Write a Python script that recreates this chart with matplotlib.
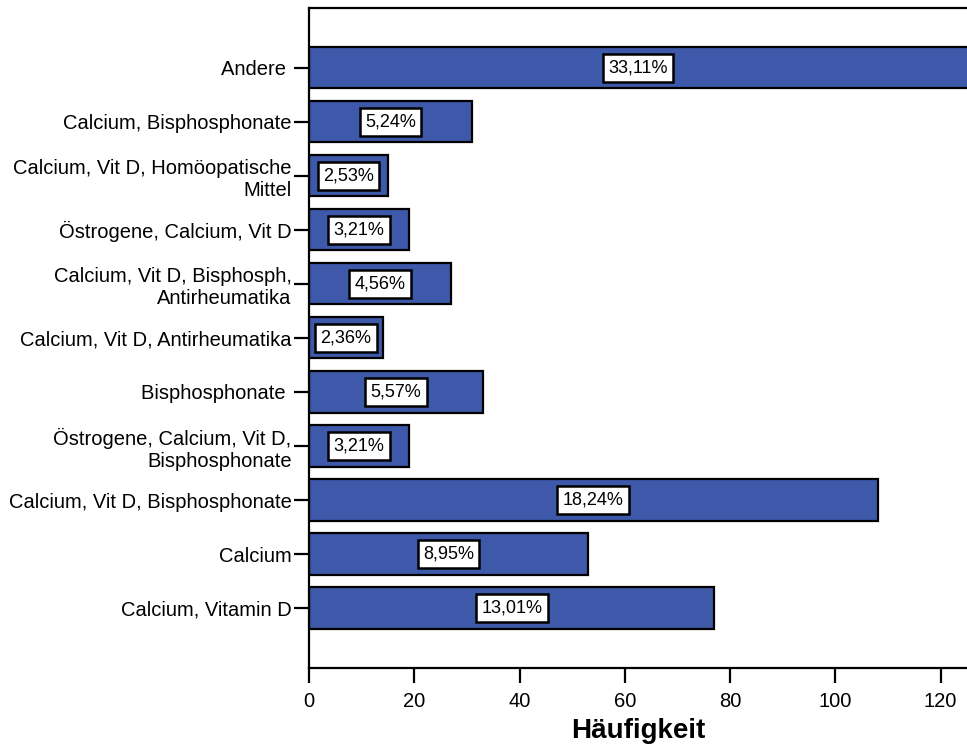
import matplotlib
matplotlib.use("Agg")
import matplotlib.pyplot as plt

# Therapie-Kombinationen, von oben nach unten
categories = [
    "Andere ",
    "Calcium, Bisphosphonate",
    "Calcium, Vit D, Homöopatische\nMittel",
    "Östrogene, Calcium, Vit D",
    "Calcium, Vit D, Bisphosph,\nAntirheumatika",
    "Calcium, Vit D, Antirheumatika",
    "Bisphosphonate ",
    "Östrogene, Calcium, Vit D,\nBisphosphonate",
    "Calcium, Vit D, Bisphosphonate",
    "Calcium",
    "Calcium, Vitamin D",
]
counts = [196, 31, 15, 19, 27, 14, 33, 19, 108, 53, 77]
percent_labels = ["33,11%", "5,24%", "2,53%", "3,21%", "4,56%", "2,36%",
                  "5,57%", "3,21%", "18,24%", "8,95%", "13,01%"]
xticks = [0, 20, 40, 60, 80, 100, 120]

plt.rcParams["font.family"] = ["Liberation Sans", "DejaVu Sans"]

fig = plt.figure(figsize=(9.67, 7.46), dpi=100)
ax = fig.add_axes([0.3195, 0.1046, 0.6805, 0.8847])

xmax = 125
n = len(categories)
ypos = list(range(n - 1, -1, -1))

ax.barh(ypos, counts, height=0.76, color="#3E59A9", edgecolor="black",
        linewidth=1.6, zorder=2)

# Prozentangaben mittig in den sichtbaren Teil des Balkens
for y, v, lab in zip(ypos, counts, percent_labels):
    xc = min(v, xmax) / 2
    ax.text(xc, y, lab, ha="center", va="center", fontsize=13, zorder=3,
            bbox=dict(boxstyle="square,pad=0.3", facecolor="white",
                      edgecolor="black", linewidth=1.8))

ax.set_xlim(0, xmax)
ax.set_ylim(-1.11, n - 1 + 1.11)
ax.set_yticks(ypos)
ax.set_yticklabels(categories, fontsize=14.5, linespacing=1.2)
ax.set_xticks(xticks)
ax.set_xticklabels([str(t) for t in xticks], fontsize=14.5)

ax.spines["right"].set_visible(False)
for s in ["left", "top", "bottom"]:
    ax.spines[s].set_linewidth(1.6)

ax.tick_params(axis="y", length=11, width=1.6, pad=1.5)
ax.tick_params(axis="x", length=11, width=1.6, pad=6)

ax.set_xlabel("Häufigkeit", fontsize=20, fontweight="bold", labelpad=5.5)

fig.savefig("out.png", dpi=100)
